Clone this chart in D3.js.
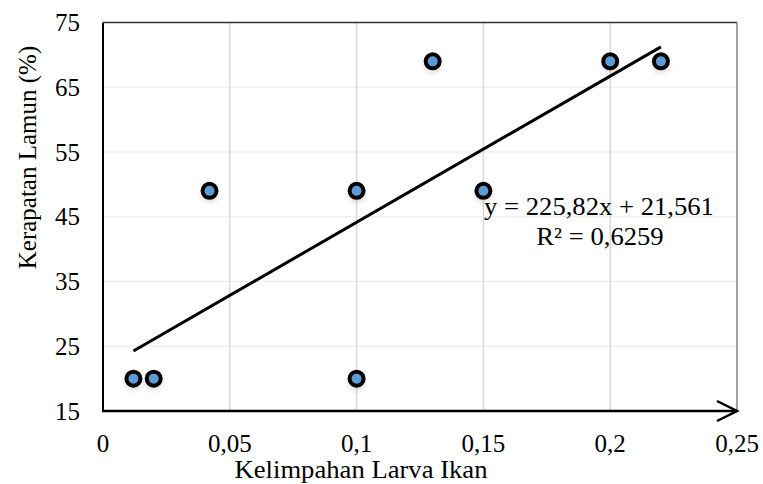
<!DOCTYPE html>
<html>
<head>
<meta charset="utf-8">
<script src="https://cdn.jsdelivr.net/npm/d3@7"></script>
<style>
    body { margin: 0; background: #fff; }
    svg text { font-family: "Liberation Serif", "Times New Roman", serif; fill: #000; }
</style>
</head>
<body>
<svg id="chart" width="763" height="484"></svg>
<script>
// data
var larva = [0.012, 0.02, 0.042, 0.1, 0.1, 0.13, 0.15, 0.2, 0.22];
var lamun = [20, 20, 49, 49, 20, 69, 49, 69, 69];
var xTicks = [0, 0.05, 0.1, 0.15, 0.2, 0.25];
var yTicks = [15, 25, 35, 45, 55, 65, 75];
var xTitle = "Kelimpahan Larva Ikan";
var yTitle = "Kerapatan Lamun (%)";

var svg = d3.select("#chart");
var plotL = 103, plotR = 737, plotT = 22.5, plotB = 411;

var x = d3.scaleLinear().domain([0, 0.25]).range([plotL, plotR]);
var y = d3.scaleLinear().domain([15, 75]).range([plotB, plotT]);

function comma(v) { return String(v).replace(".", ","); }

// text that is a little wider than the font draws it
function wideText(px, py, str) {
    return svg.append("text")
        .attr("transform", "translate(" + px + "," + py + ") scale(1.066,1)")
        .attr("text-anchor", "middle")
        .style("font-size", "25px")
        .text(str);
}

// soft shadow under the markers
var defs = svg.append("defs");
var f = defs.append("filter").attr("id", "shadow")
    .attr("x", "-100%").attr("y", "-100%").attr("width", "300%").attr("height", "300%");
f.append("feDropShadow").attr("dx", 0).attr("dy", 3).attr("stdDeviation", 2.5)
    .attr("flood-color", "#000").attr("flood-opacity", 0.12);

// gridlines
svg.append("g").selectAll("line").data(yTicks.slice(1, -1)).join("line")
    .attr("x1", plotL).attr("x2", plotR)
    .attr("y1", function (d) { return y(d); }).attr("y2", function (d) { return y(d); })
    .style("stroke", "#efefef").style("stroke-width", 1.5);

svg.append("g").selectAll("line").data(xTicks.slice(1, -1)).join("line")
    .attr("x1", function (d) { return x(d); }).attr("x2", function (d) { return x(d); })
    .attr("y1", plotT).attr("y2", plotB)
    .style("stroke", "#d9d9d9").style("stroke-width", 1.5);

// plot frame: top and right
svg.append("line").attr("x1", plotL).attr("x2", plotR).attr("y1", plotT).attr("y2", plotT)
    .style("stroke", "#333").style("stroke-width", 1.5);
svg.append("line").attr("x1", plotR).attr("x2", plotR).attr("y1", plotT).attr("y2", plotB)
    .style("stroke", "#7f7f7f").style("stroke-width", 1.5);

// axes
svg.append("line").attr("x1", plotL).attr("x2", plotL).attr("y1", plotT).attr("y2", plotB + 1)
    .style("stroke", "#000").style("stroke-width", 2);
svg.append("line").attr("x1", plotL - 1).attr("x2", plotR).attr("y1", plotB).attr("y2", plotB)
    .style("stroke", "#000").style("stroke-width", 2.5);
svg.append("path")
    .attr("d", "M" + (plotR - 20) + "," + (plotB - 10) + "L" + plotR + "," + plotB + "L" + (plotR - 20) + "," + (plotB + 10))
    .style("fill", "none").style("stroke", "#000").style("stroke-width", 2.5);

// tick labels
svg.append("g").selectAll("text").data(xTicks).join("text")
    .attr("x", function (d) { return x(d); }).attr("y", 452)
    .attr("text-anchor", "middle").style("font-size", "25px")
    .text(function (d) { return comma(d); });

svg.append("g").selectAll("text").data(yTicks).join("text")
    .attr("x", 80).attr("y", function (d) { return y(d) + 8.5; })
    .attr("text-anchor", "end").style("font-size", "25px")
    .text(function (d) { return d; });

// axis titles
wideText(361, 478, xTitle);
svg.append("text").attr("transform", "translate(36,157.5) rotate(-90)").attr("text-anchor", "middle")
    .style("font-size", "25px").text(yTitle);

// linear trend from the points
var pts = larva.map(function (v, i) { return [v, lamun[i]]; });
var mx = d3.mean(larva), my = d3.mean(lamun);
var sxy = d3.sum(pts, function (p) { return (p[0] - mx) * (p[1] - my); });
var sxx = d3.sum(larva, function (v) { return (v - mx) * (v - mx); });
var syy = d3.sum(lamun, function (v) { return (v - my) * (v - my); });
var slope = sxy / sxx, icept = my - slope * mx;
var r2 = sxy * sxy / (sxx * syy);
var xr = d3.extent(larva);

svg.append("line")
    .attr("x1", x(xr[0])).attr("y1", y(slope * xr[0] + icept))
    .attr("x2", x(xr[1])).attr("y2", y(slope * xr[1] + icept))
    .style("stroke", "#000").style("stroke-width", 3);

// points
svg.append("g").selectAll("circle").data(pts).join("circle")
    .attr("cx", function (d) { return x(d[0]); })
    .attr("cy", function (d) { return y(d[1]); })
    .attr("r", 7)
    .attr("filter", "url(#shadow)")
    .style("fill", "#5b9bd5").style("stroke", "#000").style("stroke-width", 4);

// equation label
wideText(599, 215, "y = " + comma(slope.toFixed(2)) + "x + " + comma(icept.toFixed(3)));
wideText(600, 245, "R\u00b2 = " + comma(r2.toFixed(4)));
</script>
</body>
</html>
